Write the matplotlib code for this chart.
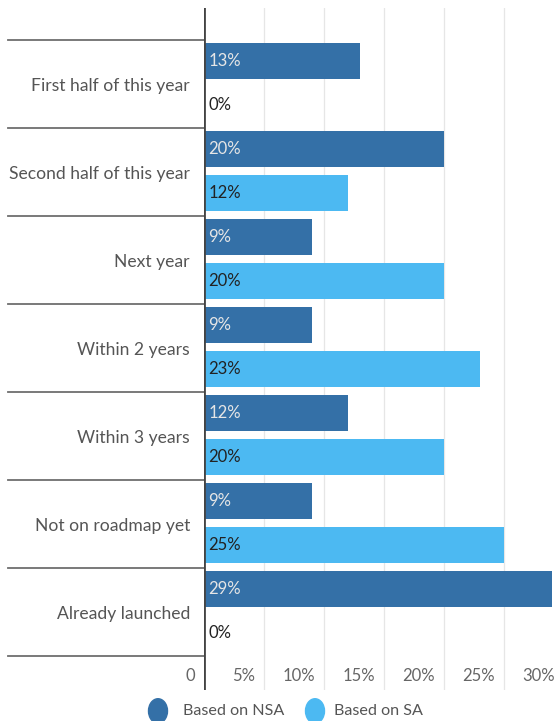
import matplotlib.pyplot as plt
import matplotlib.transforms as mtransforms

plt.rcParams['font.family'] = ['Lato', 'DejaVu Sans']

categories = ['First half of this year', 'Second half of this year', 'Next year',
              'Within 2 years', 'Within 3 years', 'Not on roadmap yet', 'Already launched']
nsa = [13, 20, 9, 9, 12, 9, 29]
sa = [0, 12, 20, 23, 20, 25, 0]
xticks = [5, 10, 15, 20, 25, 30]
series_names = ['Based on NSA', 'Based on SA']

c_nsa = '#3470a7'
c_sa = '#4cb9f2'
W, H = 558, 721
fs = 12

fig = plt.figure(figsize=(W / 100, H / 100), dpi=100)
# axes spans from the y axis line to the right edge, pixel based
ax = fig.add_axes([204 / W, 1 - 690 / H, (W - 204) / W, (690 - 8) / H])
ax.set_xlim(0, (W - 204) / 12)
ax.set_ylim((690 - 40) / 88, -(40 - 8) / 88)
ax.axis('off')

for t in xticks:
    ax.axvline(t, color='#e6e6e6', lw=0.9, zorder=0)

for i, (a, b) in enumerate(zip(nsa, sa)):
    ax.barh(i + 0.239, a, height=0.40, color=c_nsa, zorder=2)
    ax.barh(i + 0.739, b, height=0.40, color=c_sa, zorder=2)
    ax.text(0.35, i + 0.239, f'{a}%', color='#e6e6e6', fontsize=fs,
            va='center', ha='left', zorder=3)
    ax.text(0.35, i + 0.739, f'{b}%', color='#222222', fontsize=fs,
            va='center', ha='left', zorder=3)
    ax.text(-14 / 12, i + 0.52, categories[i], color='#555555', fontsize=12.6,
            va='center', ha='right')

# separators between groups, out to the left margin
sep = mtransforms.blended_transform_factory(fig.transFigure, ax.transData)
for k in range(len(categories) + 1):
    ax.plot([8 / W, 204 / W], [k, k], transform=sep, color='#6e6e6e',
            lw=1.3, clip_on=False)

ax.axvline(0, color='#444444', lw=2, zorder=4)

# tick labels sit just left of their gridlines
off = mtransforms.offset_copy(ax.transData, fig=fig, x=-9, y=0, units='dots')
yl = (676 - 40) / 88
ax.text(0, yl, '0', transform=off, ha='right', va='center', color='#666666', fontsize=fs)
for t in xticks:
    ax.text(t, yl, f'{t}%', transform=off, ha='right', va='center',
            color='#666666', fontsize=fs, clip_on=False)

# legend
for x0, col, name, tx in [(158, c_nsa, series_names[0], 183), (315, c_sa, series_names[1], 334)]:
    fig.patches.append(plt.Circle((x0 / W, 1 - 711 / H), 9.5 / W, transform=fig.transFigure,
                                  color=col))
    fig.text(tx / W, 1 - 711 / H, name, color='#555555', fontsize=11.6, va='center', ha='left')

fig.savefig('out.png', dpi=100)
